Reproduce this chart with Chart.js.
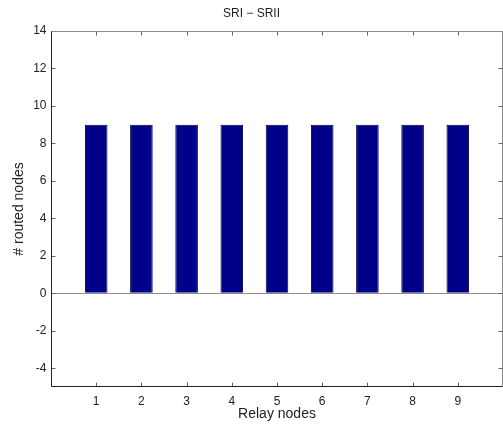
<!DOCTYPE html>
<html>
<head>
<meta charset="utf-8">
<script src="https://cdn.jsdelivr.net/npm/chart.js@4/dist/chart.umd.min.js"></script>
<style>
  body { margin: 0; background: #fff; }
  #wrap { width: 503px; height: 426px; }
</style>
</head>
<body>
<div id="wrap"><canvas id="chart" width="503" height="426"></canvas></div>
<script>
// dati
const relayNodes = [1, 2, 3, 4, 5, 6, 7, 8, 9];
const routedDiff = [9, 9, 9, 9, 9, 9, 9, 9, 9];
const xTickValues = [1, 2, 3, 4, 5, 6, 7, 8, 9];
const yTickValues = [-4, -2, 0, 2, 4, 6, 8, 10, 12, 14];

const FONT = "'Liberation Sans', Arial, Helvetica, sans-serif";

// cornice stile MATLAB con tacche verso l'interno
const matlabFrame = {
  id: "matlabFrame",
  afterDatasetsDraw(chart) {
    const { ctx, chartArea: a, scales } = chart;
    const L = Math.round(a.left) + 0.5,
      R = Math.round(a.right) - 0.5,
      T = Math.round(a.top) + 0.5,
      B = Math.round(a.bottom) - 0.5;
    const len = 4;
    ctx.save();
    ctx.lineWidth = 1;
    ctx.strokeStyle = "#666";
    ctx.beginPath();
    xTickValues.forEach((v) => {
      const px = Math.round(scales.x.getPixelForValue(v)) + 0.5;
      ctx.moveTo(px, B);
      ctx.lineTo(px, B - len);
      ctx.moveTo(px, T);
      ctx.lineTo(px, T + len);
    });
    yTickValues.forEach((v) => {
      const py = Math.round(scales.y.getPixelForValue(v)) + 0.5;
      ctx.moveTo(L, py);
      ctx.lineTo(L + len, py);
      ctx.moveTo(R, py);
      ctx.lineTo(R - len, py);
    });
    ctx.stroke();
    // lati top/right più chiari
    ctx.strokeStyle = "#8a8a8a";
    ctx.beginPath();
    ctx.moveTo(L, T);
    ctx.lineTo(R, T);
    ctx.lineTo(R, B);
    ctx.stroke();
    ctx.strokeStyle = "#222";
    ctx.beginPath();
    ctx.moveTo(L, T);
    ctx.lineTo(L, B);
    ctx.lineTo(R, B);
    ctx.stroke();
    ctx.restore();
  },
};

new Chart(document.getElementById("chart").getContext("2d"), {
  type: "bar",
  data: {
    datasets: [
      {
        data: relayNodes.map((x, i) => ({ x, y: routedDiff[i] })),
        backgroundColor: "#000088",
        borderColor: "#00003a",
        borderWidth: 1,
        barPercentage: 0.5,
        categoryPercentage: 1,
      },
    ],
  },
  options: {
    responsive: false,
    animation: false,
    layout: { padding: { top: 0, right: 0, bottom: 0, left: 0 } },
    plugins: {
      legend: { display: false },
      tooltip: { enabled: false },
      title: {
        display: true,
        text: "SRI \u2212 SRII",
        color: "#222",
        font: { family: FONT, size: 12, weight: "normal" },
        padding: { top: 6, bottom: 10.6 },
      },
    },
    scales: {
      x: {
        type: "linear",
        min: 0,
        max: 10,
        offset: false,
        afterBuildTicks: (s) => {
          s.ticks = xTickValues.map((v) => ({ value: v }));
        },
        afterFit: (s) => {
          s.height = 39;
        },
        grid: { display: false, drawTicks: false },
        border: { display: false },
        ticks: {
          padding: 7.8,
          color: "#222",
          font: { family: FONT, size: 12 },
          maxRotation: 0,
          autoSkip: false,
        },
        title: {
          display: true,
          text: "Relay nodes",
          color: "#222",
          font: { family: FONT, size: 14 },
          padding: { top: 0, bottom: 3.6 },
        },
      },
      y: {
        min: -5,
        max: 14,
        afterBuildTicks: (s) => {
          s.ticks = yTickValues.map((v) => ({ value: v }));
        },
        afterFit: (s) => {
          s.width = 51;
        },
        grid: {
          drawTicks: false,
          color: (c) => (c.tick && c.tick.value === 0 ? "#8c8c8c" : "rgba(0,0,0,0)"),
        },
        border: { display: false },
        ticks: {
          padding: 4.5,
          color: "#222",
          font: { family: FONT, size: 12 },
          autoSkip: false,
        },
        title: {
          display: true,
          text: "# routed nodes",
          color: "#222",
          font: { family: FONT, size: 14 },
          padding: { top: 10.6, bottom: 0 },
        },
      },
    },
  },
  plugins: [matlabFrame],
});
</script>
</body>
</html>
